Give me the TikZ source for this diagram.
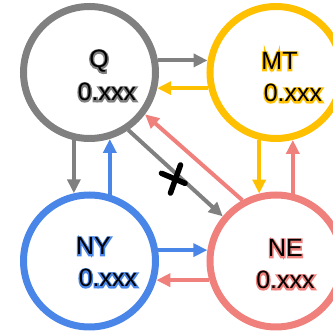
\documentclass[tikz,border=0pt]{standalone}
\usepackage{fontspec}
\setmainfont{Liberation Sans}
\usetikzlibrary{arrows.meta}

\definecolor{qgray}{RGB}{128,128,128}
\definecolor{mtgold}{RGB}{255,192,0}
\definecolor{nyblue}{RGB}{74,134,232}
\definecolor{nesalmon}{RGB}{240,128,124}
% black letters over a coloured edge (stroke colour given as r g b)
\newcommand\edgetext[2]{\rlap{\special{pdf:literal direct #1 RG 2.8 w 1 Tr}#2\special{pdf:literal direct 0 Tr}}#2}

\begin{document}
\begin{tikzpicture}[x=1pt,y=1pt,
  state/.style={circle,draw=#1,line width=7pt,minimum size=132pt,inner sep=0pt},
  link/.style={draw=#1,line width=4pt,-{Triangle[length=14pt,width=13pt]}},
  lbl/.style={anchor=base,inner sep=0pt,font=\fontsize{25}{30}\selectfont}] %[x=1pt,y=1pt]

\useasboundingbox (0,0) rectangle (333,332);
\clip (0,0) rectangle (333,332);

\node[state=qgray] (Q) at (89.5,259.5) {};
\node[state=mtgold] (MT) at (276,259.5) {};
\node[state=nyblue] (NY) at (89.5,71) {};
\node[state=nesalmon] (NE) at (276,71) {};

\node[lbl] (Qname) at (99,264) {\edgetext{0.502 0.502 0.502}{Q}};
\node[lbl] (Qval) at (107,231) {\edgetext{0.502 0.502 0.502}{0.xxx}};
\node[lbl] (MTname) at (279.5,262) {\edgetext{1 0.753 0}{MT}};
\node[lbl] (MTval) at (293,230) {\edgetext{1 0.753 0}{0.xxx}};
\node[lbl] (NYname) at (93.5,77) {\edgetext{0.29 0.525 0.91}{NY}};
\node[lbl] (NYval) at (108,45) {\edgetext{0.29 0.525 0.91}{0.xxx}};
\node[lbl] (NEname) at (285.5,75) {\edgetext{0.941 0.502 0.486}{NE}};
\node[lbl] (NEval) at (285.5,43) {\edgetext{0.941 0.502 0.486}{0.xxx}};

\draw[link=qgray] (Q.10) -- (MT.170);
\draw[link=mtgold] (MT.193.7) -- (Q.-13.7);
\draw[link=qgray] (Q.-103) -- (NY.103);
\draw[link=nyblue] (NY.73.7) -- (Q.-73.7);
\draw[link=nyblue] (NY.9) -- (NE.171);
\draw[link=nesalmon] (NE.196.7) -- (NY.-16.7);
\draw[link=mtgold] (MT.-104.2) -- (NE.104.2);
\draw[link=nesalmon] (NE.76.7) -- (MT.-76.7);
\draw[link=qgray] (Q.-56) -- (NE.140);
\draw[link=nesalmon] (NE.119) -- (Q.-37.5);

% cross on the Q-NE link
\draw[line width=5.5pt,line cap=round] (180.5,167) -- (170.5,139);
\draw[line width=5.5pt,line cap=round] (161.5,158.7) -- (185,148.7);

\end{tikzpicture}
\end{document}
